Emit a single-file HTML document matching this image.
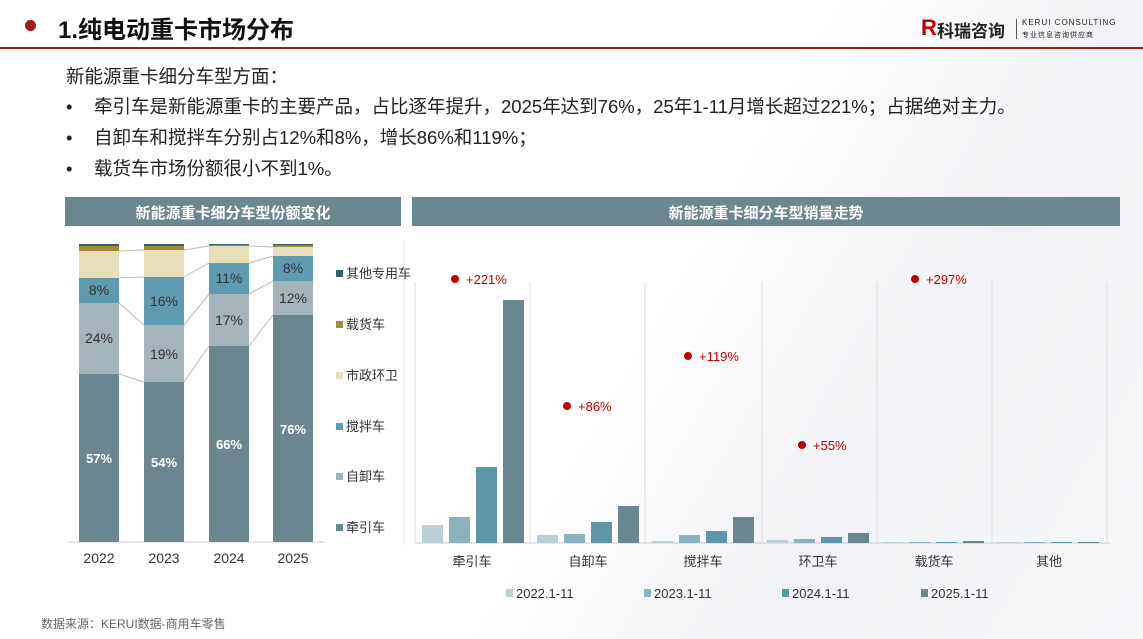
<!DOCTYPE html>
<html><head><meta charset="utf-8"><style>
*{margin:0;padding:0;box-sizing:border-box}
body{width:1143px;height:639px;overflow:hidden;background:#fff;font-family:"Liberation Sans","Noto Sans CJK SC",sans-serif;position:relative;color:#222}
.a{position:absolute}
.t{position:absolute;white-space:nowrap}
</style></head><body>
<div class="a" style="left:0;top:0;width:1143px;height:639px;background:linear-gradient(120deg,#fff 0%,#fff 55%,#f1f2f5 75%,#f7f8fa 100%)"></div>
<div class="a" style="left:25px;top:20px;width:11px;height:11px;border-radius:50%;background:#9b1c1c"></div>
<div class="t" style="left:58px;top:10px;font-size:24px;font-weight:bold;color:#111">1.纯电动重卡市场分布</div>
<div class="a" style="left:0;top:47px;width:1143px;height:2px;background:#9b1c1c"></div>
<div class="t" style="left:921px;top:15px;font-size:22px;font-weight:900;color:#c00000">R</div>
<div class="t" style="left:937px;top:17px;font-size:17px;font-weight:bold;color:#222">科瑞咨询</div>
<div class="a" style="left:1016px;top:19px;width:1px;height:20px;background:#555"></div>
<div class="t" style="left:1022px;top:18px;font-size:8px;letter-spacing:1px;color:#222">KERUI CONSULTING</div>
<div class="t" style="left:1022px;top:30px;font-size:7px;letter-spacing:1px;color:#222">专业信息咨询供应商</div>

<div class="t" style="left:66px;top:63px;font-size:18.5px">新能源重卡细分车型方面：</div>
<div class="t" style="left:66px;top:93px;font-size:18.5px"><span style="display:inline-block;width:28px">•</span>牵引车是新能源重卡的主要产品，占比逐年提升，2025年达到76%，25年1-11月增长超过221%；占据绝对主力。</div>
<div class="t" style="left:66px;top:124px;font-size:18.5px"><span style="display:inline-block;width:28px">•</span>自卸车和搅拌车分别占12%和8%，增长86%和119%；</div>
<div class="t" style="left:66px;top:155px;font-size:18.5px"><span style="display:inline-block;width:28px">•</span>载货车市场份额很小不到1%。</div>

<div class="a" style="left:65px;top:197px;width:336px;height:29px;background:#6b878f"></div>
<div class="t" style="left:65px;top:202px;width:336px;text-align:center;font-size:15px;font-weight:bold;color:#fff">新能源重卡细分车型份额变化</div>
<div class="a" style="left:412px;top:197px;width:708px;height:29px;background:#6b878f"></div>
<div class="t" style="left:412px;top:202px;width:708px;text-align:center;font-size:15px;font-weight:bold;color:#fff">新能源重卡细分车型销量走势</div>

<svg class="a" style="left:0;top:0" width="1143" height="639">
<g fill="none" stroke="#bbb" stroke-width="1">
<polyline points="119,374 144,382"/><polyline points="184,382 209,346"/><polyline points="249,346 273,315"/>
<polyline points="119,303 144,325"/><polyline points="184,325 209,294"/><polyline points="249,294 273,281"/>
<polyline points="119,278 144,277"/><polyline points="184,277 209,263"/><polyline points="249,263 273,256"/>
<polyline points="119,251 144,250"/><polyline points="184,250 209,246"/><polyline points="249,246 273,247"/>
</g>
<line x1="68" y1="542" x2="325" y2="542" stroke="#ccc"/>
<g>
<rect x="79" y="374" width="40" height="168" fill="#6a878f"/><rect x="79" y="303" width="40" height="71" fill="#a5b4ba"/><rect x="79" y="278" width="40" height="25" fill="#5f9bb0"/><rect x="79" y="251" width="40" height="27" fill="#e6dfba"/><rect x="79" y="246" width="40" height="5" fill="#a08a35"/><rect x="79" y="244" width="40" height="2" fill="#355f6c"/>
<rect x="144" y="382" width="40" height="160" fill="#6a878f"/><rect x="144" y="325" width="40" height="57" fill="#a5b4ba"/><rect x="144" y="277" width="40" height="48" fill="#5f9bb0"/><rect x="144" y="250" width="40" height="27" fill="#e6dfba"/><rect x="144" y="246" width="40" height="4" fill="#a08a35"/><rect x="144" y="244" width="40" height="2" fill="#355f6c"/>
<rect x="209" y="346" width="40" height="196" fill="#6a878f"/><rect x="209" y="294" width="40" height="52" fill="#a5b4ba"/><rect x="209" y="263" width="40" height="31" fill="#5f9bb0"/><rect x="209" y="246" width="40" height="17" fill="#e6dfba"/><rect x="209" y="245" width="40" height="1" fill="#a08a35"/><rect x="209" y="244" width="40" height="1" fill="#355f6c"/>
<rect x="273" y="315" width="40" height="227" fill="#6a878f"/><rect x="273" y="281" width="40" height="34" fill="#a5b4ba"/><rect x="273" y="256" width="40" height="25" fill="#5f9bb0"/><rect x="273" y="247" width="40" height="9" fill="#e6dfba"/><rect x="273" y="245" width="40" height="2" fill="#a08a35"/><rect x="273" y="244" width="40" height="1" fill="#355f6c"/>
</g>
<g font-family="Liberation Sans,sans-serif" font-size="14" text-anchor="middle" fill="#333">
<text x="99" y="295">8%</text><text x="99" y="343">24%</text><text x="99" y="463" fill="#fff" font-weight="bold" font-size="13">57%</text>
<text x="164" y="306">16%</text><text x="164" y="359">19%</text><text x="164" y="467" fill="#fff" font-weight="bold" font-size="13">54%</text>
<text x="229" y="283">11%</text><text x="229" y="325">17%</text><text x="229" y="449" fill="#fff" font-weight="bold" font-size="13">66%</text>
<text x="293" y="273">8%</text><text x="293" y="303">12%</text><text x="293" y="434" fill="#fff" font-weight="bold" font-size="13">76%</text>
<text x="99" y="563">2022</text><text x="164" y="563">2023</text><text x="229" y="563">2024</text><text x="293" y="563">2025</text>
</g>
<g font-family="Liberation Sans,Noto Sans CJK SC,sans-serif" font-size="13" fill="#333">
<rect x="336" y="270" width="7" height="7" fill="#355f6c"/><text x="346" y="278">其他专用车</text>
<rect x="336" y="321" width="7" height="7" fill="#a08a35"/><text x="346" y="329">载货车</text>
<rect x="336" y="372" width="7" height="7" fill="#e6dfba"/><text x="346" y="380">市政环卫</text>
<rect x="336" y="423" width="7" height="7" fill="#5f9bb0"/><text x="346" y="431">搅拌车</text>
<rect x="336" y="473" width="7" height="7" fill="#a5b4ba"/><text x="346" y="481">自卸车</text>
<rect x="336" y="524" width="7" height="7" fill="#6a878f"/><text x="346" y="532">牵引车</text>
</g>
<line x1="404" y1="240" x2="404" y2="545" stroke="#ddd"/>

<g stroke="#ddd"><line x1="415" y1="282" x2="415" y2="543"/><line x1="530" y1="282" x2="530" y2="543"/><line x1="645" y1="282" x2="645" y2="543"/><line x1="762" y1="282" x2="762" y2="543"/><line x1="877" y1="282" x2="877" y2="543"/><line x1="992" y1="282" x2="992" y2="543"/><line x1="1107" y1="282" x2="1107" y2="543"/></g>
<line x1="415" y1="543" x2="1110" y2="543" stroke="#ccc"/>
<g>
<rect x="422" y="525" width="21" height="18" fill="#bdd0d8"/><rect x="449" y="517" width="21" height="26" fill="#8cb1bf"/><rect x="476" y="467" width="21" height="76" fill="#5e95a8"/><rect x="503" y="300" width="21" height="243" fill="#6a878f"/>
<rect x="537" y="535" width="21" height="8" fill="#bdd0d8"/><rect x="564" y="534" width="21" height="9" fill="#8cb1bf"/><rect x="591" y="522" width="21" height="21" fill="#5e95a8"/><rect x="618" y="506" width="21" height="37" fill="#6a878f"/>
<rect x="652" y="541" width="21" height="2" fill="#bdd0d8"/><rect x="679" y="535" width="21" height="8" fill="#8cb1bf"/><rect x="706" y="531" width="21" height="12" fill="#5e95a8"/><rect x="733" y="517" width="21" height="26" fill="#6a878f"/>
<rect x="767" y="540" width="21" height="3" fill="#bdd0d8"/><rect x="794" y="539" width="21" height="4" fill="#8cb1bf"/><rect x="821" y="537" width="21" height="6" fill="#5e95a8"/><rect x="848" y="533" width="21" height="10" fill="#6a878f"/>
<rect x="882" y="542" width="21" height="1" fill="#bdd0d8"/><rect x="909" y="542" width="21" height="1" fill="#8cb1bf"/><rect x="936" y="542" width="21" height="1" fill="#5e95a8"/><rect x="963" y="541" width="21" height="2" fill="#6a878f"/>
<rect x="997" y="542" width="21" height="1" fill="#bdd0d8"/><rect x="1024" y="542" width="21" height="1" fill="#8cb1bf"/><rect x="1051" y="542" width="21" height="1" fill="#5e95a8"/><rect x="1078" y="542" width="21" height="1" fill="#6a878f"/>
</g>
<g font-family="Liberation Sans,sans-serif" font-size="13" fill="#c00000">
<circle cx="455" cy="279" r="4" fill="#c00000"/><text x="466" y="284">+221%</text>
<circle cx="567" cy="406" r="4" fill="#c00000"/><text x="578" y="411">+86%</text>
<circle cx="688" cy="356" r="4" fill="#c00000"/><text x="699" y="361">+119%</text>
<circle cx="802" cy="445" r="4" fill="#c00000"/><text x="813" y="450">+55%</text>
<circle cx="915" cy="279" r="4" fill="#c00000"/><text x="926" y="284">+297%</text>
</g>
<g font-family="Liberation Sans,Noto Sans CJK SC,sans-serif" font-size="13" fill="#333" text-anchor="middle">
<text x="472" y="566">牵引车</text><text x="588" y="566">自卸车</text><text x="703" y="566">搅拌车</text><text x="818" y="566">环卫车</text><text x="934" y="566">载货车</text><text x="1049" y="566">其他</text>
</g>
<g font-family="Liberation Sans,sans-serif" font-size="13" fill="#333">
<rect x="506" y="589" width="7" height="8" fill="#bdd0d8"/><text x="516" y="598">2022.1-11</text>
<rect x="644" y="589" width="7" height="8" fill="#8cb1bf"/><text x="654" y="598">2023.1-11</text>
<rect x="782" y="589" width="7" height="8" fill="#5e95a8"/><text x="792" y="598">2024.1-11</text>
<rect x="921" y="589" width="7" height="8" fill="#6a878f"/><text x="931" y="598">2025.1-11</text>
</g>
</svg>
<div class="t" style="left:41px;top:615px;font-size:12px;color:#666">数据来源：KERUI数据-商用车零售</div>
</body></html>
